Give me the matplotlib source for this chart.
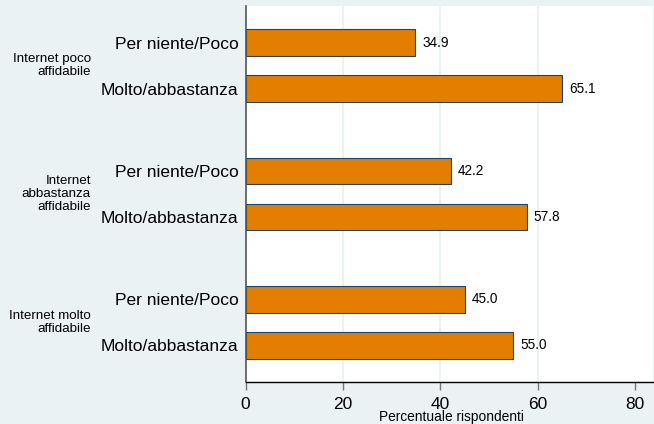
import matplotlib
matplotlib.use("Agg")
import matplotlib.pyplot as plt
import matplotlib.transforms as mtransforms

plt.rcParams['font.family'] = ['Liberation Sans', 'DejaVu Sans']

groups = ["Internet poco\naffidabile", "Internet\nabbastanza\naffidabile", "Internet molto\naffidabile"]
categories = ["Per niente/Poco", "Molto/abbastanza"]
values = [[34.9, 65.1], [42.2, 57.8], [45.0, 55.0]]
xticks = [0, 20, 40, 60, 80]
xlabel = "Percentuale rispondenti"

bg = "#EAF2F3"
bar_color = "#E37E00"
edge_color = "#1A476F"

W, H = 654, 424
fig = plt.figure(figsize=(W / 100, H / 100), dpi=100, facecolor=bg)
ax = fig.add_axes([245.5 / W, 1 - 382 / H, (652.5 - 245.5) / W, (382 - 6) / H])
ax.set_facecolor("white")

group_gap = 2.8
ypos, yvals, ylabels, gcenters = [], [], [], []
for gi, vals in enumerate(values):
    base = gi * group_gap
    for ci, v in enumerate(vals):
        ypos.append(base + ci)
        yvals.append(v)
        ylabels.append(categories[ci])
    gcenters.append(base + 0.5)

for g in [20, 40, 60]:
    ax.axvline(g, color=bg, lw=1.5, zorder=0)

ax.barh(ypos, yvals, height=0.58, color=bar_color, edgecolor=edge_color, linewidth=0.8, zorder=2)
for y, v in zip(ypos, yvals):
    ax.text(v + 1.4, y, f"{v:.1f}", va="center", ha="left", fontsize=9.8, color="black")

ax.set_xlim(0, 83.6)
ax.set_ylim(6.6 + 0.8, -0.8)
ax.set_yticks(ypos)
ax.set_yticklabels(ylabels, fontsize=12.5)
ax.tick_params(axis="y", length=0, pad=5)
ax.set_xticks(xticks)
ax.set_xticklabels([str(t) for t in xticks], fontsize=12.5)
ax.tick_params(axis="x", length=6, width=1, color="#777777", pad=4.5)
ax.set_xlabel(xlabel, fontsize=9.9, va="top")
ax.xaxis.set_label_coords(451 / W, 1 - 410 / H, transform=fig.transFigure)

for s in ["top", "right"]:
    ax.spines[s].set_visible(False)
ax.spines["left"].set_color("#555555")
ax.spines["left"].set_linewidth(1.2)
ax.spines["bottom"].set_color("black")
ax.spines["bottom"].set_linewidth(1.0)

trans = mtransforms.blended_transform_factory(fig.transFigure, ax.transData)
for gl, gc in zip(groups, gcenters):
    ax.text(91 / W, gc, gl, transform=trans, ha="right", va="center",
            fontsize=9.6, linespacing=1.1, multialignment="right")

fig.savefig("out.png", dpi=100, facecolor=bg)
